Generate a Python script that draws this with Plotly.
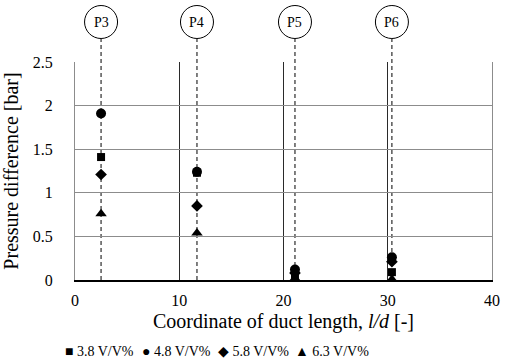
import plotly.graph_objects as go

# Measurement positions (l/d) and labels
positions = [2.5, 11.7, 21.1, 30.4]
point_labels = ["P3", "P4", "P5", "P6"]

# Series values (pressure difference, bar)
series_names = ["3.8 V/V%", "4.8 V/V%", "5.8 V/V%", "6.3 V/V%"]
p_38 = [1.41, 1.23, 0.05, 0.09]
p_48 = [1.91, 1.24, 0.12, 0.26]
p_58 = [1.21, 0.85, 0.08, 0.21]
p_63 = [0.76, 0.54, 0.02, 0.01]

x_ticks = [0, 10, 20, 30, 40]
y_ticks = [0, 0.5, 1, 1.5, 2, 2.5]
y_tick_text = ["0", "0.5", "1", "1.5", "2", "2.5"]

symbols = ["square", "circle", "diamond", "triangle-up"]
legend_glyphs = ["\u25A0", "\u25CF", "\u25C6", "\u25B2"]
sizes = [8, 10, 9, 10]
values = [p_38, p_48, p_58, p_63]

FONT = "Liberation Serif"
W, H = 510, 364
ML, MR, MT, MB = 75, 10, 62, 84
PW, PH = W - ML - MR, H - MT - MB

fig = go.Figure()
for name, vals, sym, sz in zip(series_names, values, symbols, sizes):
    fig.add_trace(go.Scatter(
        x=positions, y=vals, mode="markers", name=name, showlegend=False,
        marker=dict(symbol=sym, size=sz, color="black"),
    ))

circle_y = 1 + (MT - 22) / PH
shapes = []
for xp in positions:
    shapes.append(dict(type="line", xref="x", yref="paper", x0=xp, x1=xp,
                       y0=0, y1=1 + (MT - 39) / PH,
                       line=dict(color="black", width=1, dash="4px,3px"), layer="below"))
    shapes.append(dict(type="circle", xref="x", yref="paper",
                       xsizemode="pixel", ysizemode="pixel",
                       xanchor=xp, yanchor=circle_y,
                       x0=-16.5, x1=16.5, y0=-16.5, y1=16.5,
                       line=dict(color="black", width=1), fillcolor="white"))

annotations = []
for xp, lab in zip(positions, point_labels):
    annotations.append(dict(x=xp, y=circle_y, xref="x", yref="paper", text=lab,
                            xanchor="center", yanchor="middle", showarrow=False,
                            font=dict(family=FONT, size=14, color="black")))

legend_x_px = [63, 141, 219, 297]
for g, name, px in zip(legend_glyphs, series_names, legend_x_px):
    annotations.append(dict(x=(px - ML) / PW, y=-(351 - MT - PH) / PH, xref="paper", yref="paper",
                            xanchor="left", yanchor="middle", text=g + " " + name,
                            showarrow=False, font=dict(family=FONT, size=14, color="black")))

fig.update_layout(
    width=W, height=H,
    margin=dict(l=ML, r=MR, t=MT, b=MB),
    paper_bgcolor="white", plot_bgcolor="white",
    font=dict(family=FONT, size=16, color="black"),
    shapes=shapes, annotations=annotations,
    showlegend=False,
    xaxis=dict(range=[0, 40], tickvals=x_ticks, ticks="", showgrid=True,
               gridcolor="#2a2a2a", gridwidth=1, showline=True, linecolor="black",
               linewidth=2, zeroline=False, ticklabelstandoff=5,
               title=dict(text="Coordinate of duct length, <i>l/d</i> [-]",
                          font=dict(family=FONT, size=20), standoff=6),
               tickfont=dict(family=FONT, size=16)),
    yaxis=dict(range=[0, 2.5], tickvals=y_ticks, ticktext=y_tick_text,
               ticks="", showgrid=True, gridcolor="#8c8c8c", gridwidth=1,
               showline=True, linecolor="#8c8c8c", linewidth=1, mirror=True,
               zeroline=False, ticklabelstandoff=18,
               title=dict(text="Pressure difference [bar]", font=dict(family=FONT, size=20),
                          standoff=8),
               tickfont=dict(family=FONT, size=16)),
)

fig.write_html("out.html")
